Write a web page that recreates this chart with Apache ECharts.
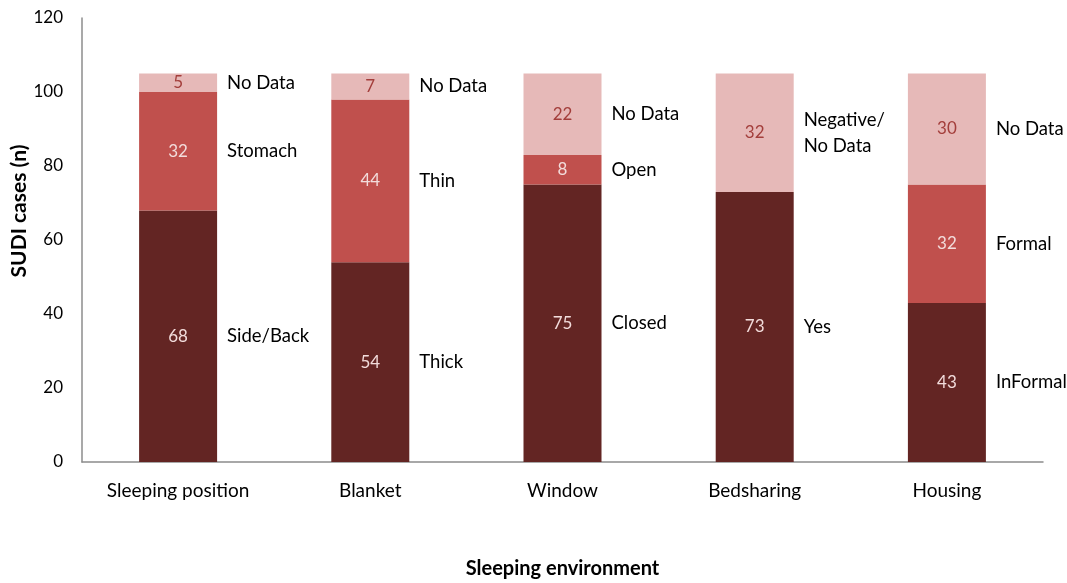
<!DOCTYPE html>
<html>
<head>
<meta charset="utf-8">
<script src="https://cdn.jsdelivr.net/npm/echarts@6/dist/echarts.min.js"></script>
<style>html,body{margin:0;padding:0;background:#fff}#c{width:1067px;height:583px}</style>
</head>
<body>
<div id="c"></div>
<script>
var categories = ['Sleeping position', 'Blanket', 'Window', 'Bedsharing', 'Housing'];
var bottomValues = [68, 54, 75, 73, 43];
var middleValues = [32, 44, 8, 0, 32];
var topValues = [5, 7, 22, 32, 30];
var bottomNotes = ['Side/Back', 'Thick', 'Closed', 'Yes', 'InFormal'];
var middleNotes = ['Stomach', 'Thin', 'Open', '', 'Formal'];
var topNotes = ['No Data', 'No Data', 'No Data', 'Negative/\nNo Data', 'No Data'];
var yTicks = [0, 120, 20];

var FONT = 'Lato';
var chart = echarts.init(document.getElementById('c'));

function valueSeries(name, data, color, labelColor) {
  return {
    name: name, type: 'bar', stack: 'vals', data: data, barWidth: 78, barGap: '-100%',
    itemStyle: { color: color },
    label: { show: true, position: 'inside', color: labelColor, fontFamily: FONT, fontSize: 17,
      formatter: function (p) { return p.value ? String(p.value) : ''; } },
    z: 3
  };
}
function noteSeries(data, notes) {
  return {
    type: 'bar', stack: 'notes', data: data, barWidth: 78, barGap: '-100%',
    itemStyle: { color: 'rgba(0,0,0,0)' },
    label: { show: true, position: 'right', distance: 10, color: '#000', fontFamily: FONT, fontSize: 18.5,
      lineHeight: 26, formatter: function (p) { return notes[p.dataIndex]; } },
    silent: true, z: 2
  };
}

chart.setOption({
  animation: false,
  grid: { left: 82, right: 24, top: 18, bottom: 121, outerBoundsMode: 'none', containLabel: false },
  xAxis: {
    type: 'category', data: categories,
    name: 'Sleeping environment', nameLocation: 'middle', nameGap: 97, nameMoveOverlap: false,
    nameTextStyle: { fontFamily: FONT, fontSize: 20, fontWeight: 'bold', color: '#000' },
    axisLine: { lineStyle: { color: '#8c8c8c', width: 1.5 } },
    axisTick: { show: false },
    axisLabel: { fontFamily: FONT, fontSize: 19, color: '#000', margin: 19 }
  },
  yAxis: {
    type: 'value', min: yTicks[0], max: yTicks[1], interval: yTicks[2],
    name: 'SUDI cases (n)', nameLocation: 'middle', nameGap: 52, nameMoveOverlap: false,
    nameTextStyle: { fontFamily: FONT, fontSize: 21, fontWeight: 'bold', color: '#000', padding: [0, 0, 0, 58] },
    axisLine: { show: true, lineStyle: { color: '#8c8c8c', width: 1.5 } },
    axisTick: { show: false },
    splitLine: { show: false },
    axisLabel: { fontFamily: FONT, fontSize: 17, color: '#000', margin: 19 }
  },
  series: [
    valueSeries('bottom', bottomValues, '#632523', '#F2DCDB'),
    valueSeries('middle', middleValues, '#C0504D', '#F2DCDB'),
    valueSeries('top', topValues, '#E6B9B8', '#A33E3B'),
    noteSeries(bottomValues, bottomNotes),
    noteSeries(middleValues, middleNotes),
    noteSeries(topValues, topNotes)
  ]
});
</script>
</body>
</html>
